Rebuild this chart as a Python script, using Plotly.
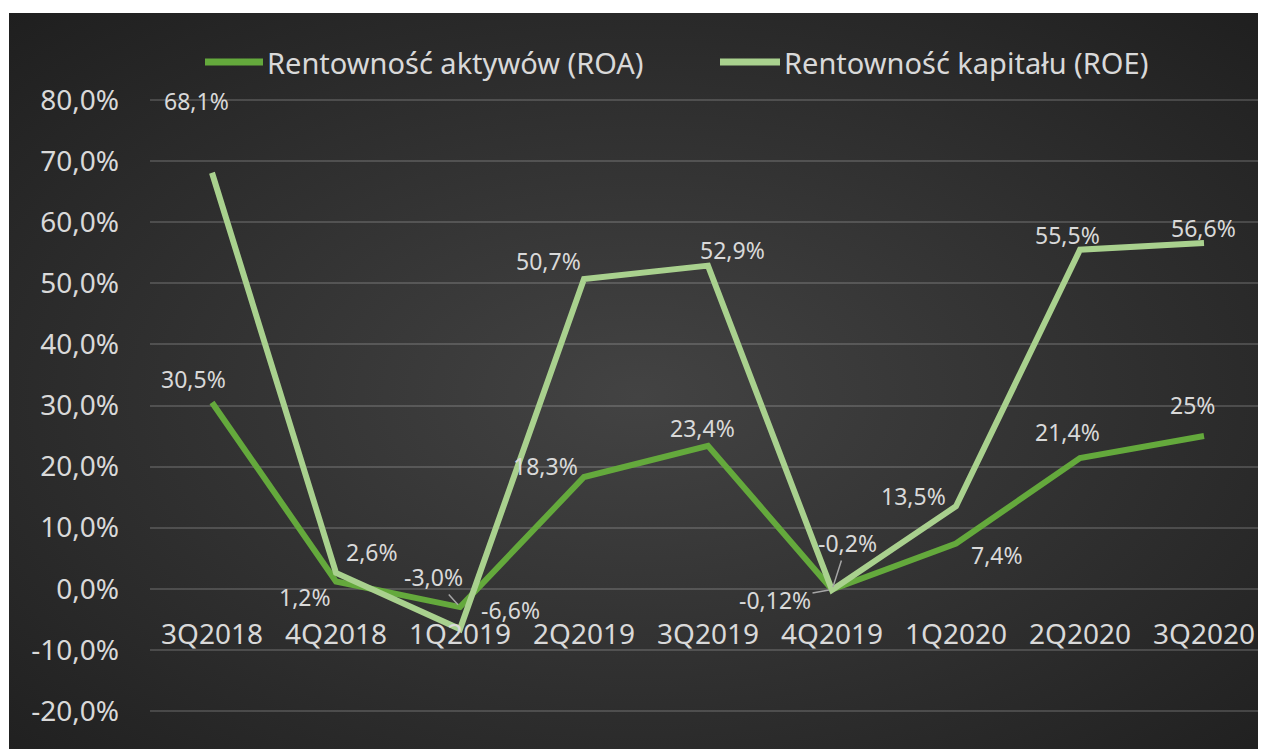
import base64

import plotly.graph_objects as go

quarters = ["3Q2018", "4Q2018", "1Q2019", "2Q2019", "3Q2019", "4Q2019", "1Q2020", "2Q2020", "3Q2020"]
roa = [30.5, 1.2, -3.0, 18.3, 23.4, -0.12, 7.4, 21.4, 25.0]
roe = [68.1, 2.6, -6.6, 50.7, 52.9, -0.2, 13.5, 55.5, 56.6]
roa_labels = ["30,5%", "1,2%", "-3,0%", "18,3%", "23,4%", "-0,12%", "7,4%", "21,4%", "25%"]
roe_labels = ["68,1%", "2,6%", "-6,6%", "50,7%", "52,9%", "-0,2%", "13,5%", "55,5%", "56,6%"]
y_ticks = [-20, -10, 0, 10, 20, 30, 40, 50, 60, 70, 80]
y_tick_text = ["-20,0%", "-10,0%", "0,0%", "10,0%", "20,0%", "30,0%", "40,0%", "50,0%", "60,0%", "70,0%", "80,0%"]

ROA_COLOR = "#64a93c"
ROE_COLOR = "#a9d18e"
TEXT_COLOR = "#d9d9d9"
FONT = "Noto Sans"

# the page body adds an 8px margin, so the figure is 8px smaller than the window
PAGE_OFF = 8
W, H = 1266 - PAGE_OFF, 749 - PAGE_OFF
M_L, M_R, M_T, M_B = 142, 0, 89, 35
PLOT_W = W - M_L - M_R
PLOT_H = H - M_T - M_B


def px_x(px):
    """Screen pixel x -> paper x."""
    return (px - PAGE_OFF - M_L) / PLOT_W


def px_y(py):
    """Screen pixel y -> paper y."""
    return (H - M_B - (py - PAGE_OFF)) / PLOT_H


# label offsets in pixels (dx, dy with dy down), and which ones get a leader line
roa_offsets = [(-19, -23), (-31, 16), (-27, -30), (-39, -11), (-6, -18), (-57, 10), (41, 11), (-13, -26), (-12, -31)]
roe_offsets = [(-16, -72), (36, -21), (50, -19), (-36, -18), (24, -16), (15, -47), (-43, -10), (-13, -15), (-1, -15)]
roa_leader = [False, False, True, False, False, True, False, False, False]
roe_leader = [False, False, False, False, False, True, False, False, False]

fig = go.Figure()
fig.add_trace(
    go.Scatter(x=quarters, y=roa, mode="lines", name="Rentowność aktywów (ROA)",
               line={"color": ROA_COLOR, "width": 6}, showlegend=False)
)
fig.add_trace(
    go.Scatter(x=quarters, y=roe, mode="lines", name="Rentowność kapitału (ROE)",
               line={"color": ROE_COLOR, "width": 6}, showlegend=False)
)

label_font = {"size": 23, "color": TEXT_COLOR, "family": FONT}
annotations = []
for values, labels, offsets, leaders in (
    (roa, roa_labels, roa_offsets, roa_leader),
    (roe, roe_labels, roe_offsets, roe_leader),
):
    for q, v, lab, (dx, dy), lead in zip(quarters, values, labels, offsets, leaders):
        if lead:
            annotations.append(dict(
                x=q, y=v, text=lab, showarrow=True, ax=dx, ay=dy,
                arrowhead=0, arrowwidth=1.5, arrowcolor="#a6a6a6", standoff=3,
                font=label_font,
            ))
        else:
            annotations.append(dict(
                x=q, y=v, text=lab, showarrow=False, xshift=dx, yshift=-dy,
                font=label_font,
            ))

# legend drawn by hand so the sample lines are as long as in the original
legend_items = [
    ("Rentowność aktywów (ROA)", ROA_COLOR, 205, 263),
    ("Rentowność kapitału (ROE)", ROE_COLOR, 720, 780),
]
shapes = []
for name, color, x0, x1 in legend_items:
    shapes.append(dict(type="line", xref="paper", yref="paper",
                       x0=px_x(x0), x1=px_x(x1), y0=px_y(62), y1=px_y(62),
                       line={"color": color, "width": 7}))
    annotations.append(dict(xref="paper", yref="paper", x=px_x(x1 + 2), y=px_y(62),
                            xanchor="left", yanchor="middle", text=name, showarrow=False,
                            font={"size": 29, "color": TEXT_COLOR, "family": FONT}))

svg = (
    "<svg xmlns='http://www.w3.org/2000/svg' width='1257' height='736' preserveAspectRatio='none'>"
    "<defs><radialGradient id='g' cx='50%' cy='52%' r='72%'>"
    "<stop offset='0' stop-color='#434343'/><stop offset='1' stop-color='#1f1f1f'/>"
    "</radialGradient></defs><rect width='100%' height='100%' fill='url(#g)'/></svg>"
)
bg_src = "data:image/svg+xml;base64," + base64.b64encode(svg.encode()).decode()

fig.update_layout(
    width=W,
    height=H,
    margin={"l": M_L, "r": M_R, "t": M_T, "b": M_B},
    paper_bgcolor="white",
    plot_bgcolor="rgba(0,0,0,0)",
    font={"family": FONT, "color": TEXT_COLOR},
    showlegend=False,
    annotations=annotations,
    shapes=shapes,
    images=[dict(
        source=bg_src, xref="paper", yref="paper",
        x=px_x(9), y=px_y(13), sizex=px_x(1266) - px_x(9), sizey=px_y(13) - px_y(749),
        xanchor="left", yanchor="top", sizing="stretch", layer="below",
    )],
    xaxis={
        "type": "category",
        "range": [-0.5, len(quarters) - 0.5],
        "anchor": "free",
        "position": (0 + 20.5) / 101,
        "showgrid": False,
        "showline": False,
        "zeroline": False,
        "ticks": "",
        "ticklabelstandoff": 26,
        "tickfont": {"size": 28, "color": TEXT_COLOR, "family": FONT},
    },
    yaxis={
        "range": [-20.5, 80.5],
        "tickvals": y_ticks,
        "ticktext": y_tick_text,
        "showgrid": True,
        "gridcolor": "rgba(255,255,255,0.16)",
        "gridwidth": 2,
        "zeroline": False,
        "showline": False,
        "ticks": "",
        "ticklabelstandoff": 30,
        "tickfont": {"size": 28, "color": TEXT_COLOR, "family": FONT},
    },
)

fig.write_html("out.html")
